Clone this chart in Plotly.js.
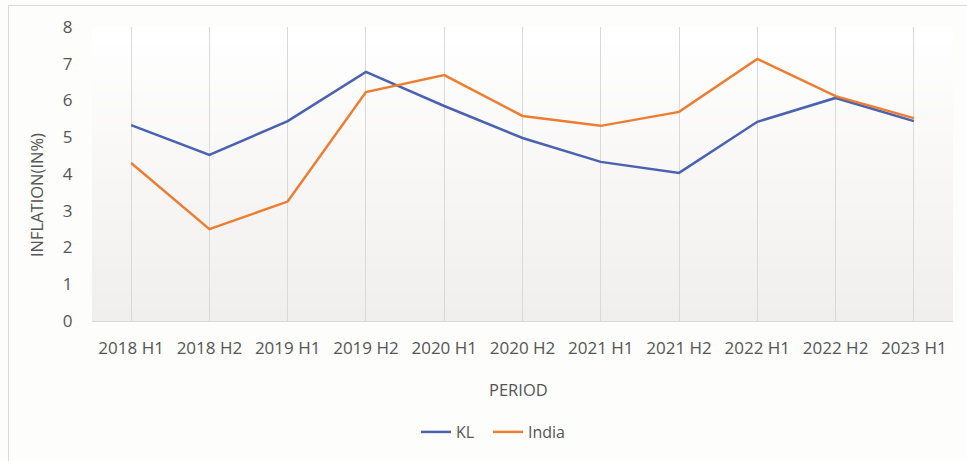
<!DOCTYPE html>
<html>
<head>
<meta charset="utf-8">
<script src="https://cdn.plot.ly/plotly-3.0.1.min.js"></script>
<style>
  html, body { margin: 0; padding: 0; background: #fdfdfc; }
  #chart { width: 967px; height: 461px; position: absolute; left: 0; top: 0; }
  #frame { position: absolute; left: 8px; top: 5px; width: 980px; height: 480px;
           border-top: 1px solid #d9d9d9; border-left: 1px solid #d9d9d9; pointer-events: none; }
</style>
</head>
<body>
<div id="chart"></div>
<div id="frame"></div>
<script>
const periods = ["2018 H1","2018 H2","2019 H1","2019 H2","2020 H1","2020 H2","2021 H1","2021 H2","2022 H1","2022 H2","2023 H1"];
const klValues = [5.33, 4.52, 5.44, 6.78, 5.85, 4.98, 4.33, 4.03, 5.42, 6.07, 5.44];
const indiaValues = [4.30, 2.50, 3.25, 6.23, 6.69, 5.58, 5.31, 5.69, 7.13, 6.12, 5.52];
const yTicks = [0,1,2,3,4,5,6,7,8];
const seriesNames = ["KL", "India"];

const FONT = "Open Sans, sans-serif";
const TXT = "#555555";

// gradient background for plot area (white top -> light grey bottom)
const bgShapes = [];
const NSTEP = 40;
const colBottom = [241, 239, 237], colTop = [255, 255, 255];
for (let i = 0; i < NSTEP; i++) {
  const t = i / (NSTEP - 1);
  const c = colBottom.map((b, k) => Math.round(b + (colTop[k] - b) * t));
  bgShapes.push({
    type: "rect", xref: "x domain", yref: "y domain", layer: "below",
    x0: 0, x1: 1, y0: i / NSTEP, y1: (i + 1) / NSTEP + 0.002,
    line: { width: 0 }, fillcolor: `rgb(${c[0]},${c[1]},${c[2]})`
  });
}

const traces = [
  { x: periods, y: klValues, name: seriesNames[0], type: "scatter", mode: "lines",
    legend: "legend", line: { color: "#4a62b0", width: 2.5 } },
  { x: periods, y: indiaValues, name: seriesNames[1], type: "scatter", mode: "lines",
    legend: "legend2", line: { color: "#ed7d31", width: 2.5 } }
];

const legendBase = {
  orientation: "h", xref: "container", yref: "container",
  xanchor: "left", y: 1 - 432 / 461, yanchor: "middle",
  font: { family: FONT, size: 16, color: TXT }, bgcolor: "rgba(0,0,0,0)"
};

const layout = {
  width: 967, height: 461,
  margin: { l: 92, r: 14, t: 27, b: 140 },
  paper_bgcolor: "rgba(0,0,0,0)",
  plot_bgcolor: "rgba(0,0,0,0)",
  font: { family: FONT, size: 17, color: TXT },
  showlegend: true,
  legend: Object.assign({}, legendBase, { x: 416 / 967 }),
  legend2: Object.assign({}, legendBase, { x: 488 / 967 }),
  xaxis: {
    type: "category", range: [-0.5, 10.5],
    showgrid: true, gridcolor: "#d9d9d9", gridwidth: 1,
    showline: true, linecolor: "#d9d9d9", linewidth: 1,
    ticks: "outside", ticklen: 12, tickcolor: "rgba(0,0,0,0)",
    tickfont: { family: FONT, size: 17, color: TXT }, fixedrange: true
  },
  yaxis: {
    range: [0, 8], tickvals: yTicks, ticktext: yTicks.map(String),
    showgrid: false, zeroline: false, showline: false,
    ticks: "outside", ticklen: 15, tickcolor: "rgba(0,0,0,0)",
    tickfont: { family: FONT, size: 17, color: TXT }, fixedrange: true
  },
  shapes: bgShapes,
  annotations: [
    { text: "INFLATION(IN%)", xref: "paper", yref: "paper", xanchor: "center", yanchor: "middle",
      x: 0, y: 0, showarrow: false, textangle: -90,
      font: { family: FONT, size: 16.5, color: TXT } },
    { text: "PERIOD", xref: "paper", yref: "paper", xanchor: "center", yanchor: "middle",
      x: 0, y: 0, showarrow: false, font: { family: FONT, size: 16.5, color: TXT } }
  ]
};
const plotW = 967 - 92 - 14, plotH = 461 - 27 - 140;
layout.annotations[0].x = (36 - 92) / plotW;
layout.annotations[0].y = (321 - 195) / plotH;
layout.annotations[1].x = (518 - 92) / plotW;
layout.annotations[1].y = (321 - 389) / plotH;

Plotly.newPlot("chart", traces, layout, { displayModeBar: false, staticPlot: true });
</script>
</body>
</html>
